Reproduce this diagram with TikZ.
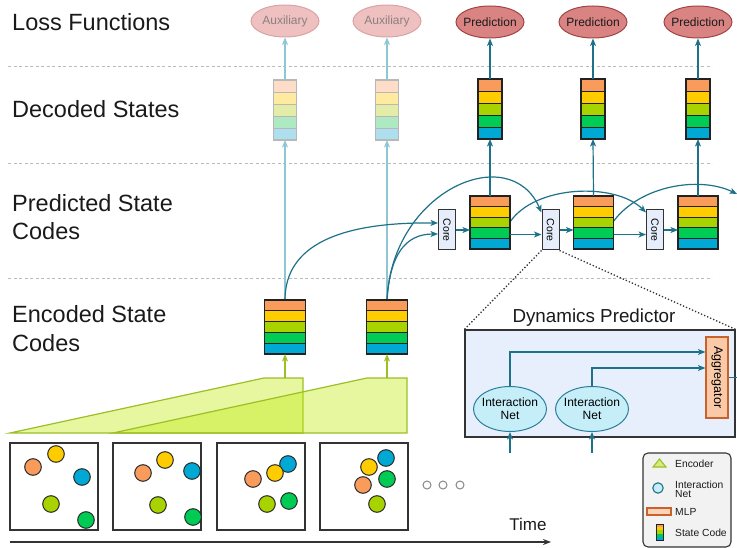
\documentclass[tikz,border=0pt]{standalone}
\usepackage{fontspec}
\setmainfont{Liberation Sans}
\usepackage{graphicx}
\usetikzlibrary{arrows.meta,calc,shapes.geometric}
\definecolor{sorange}{HTML}{F99B5B}
\definecolor{syellow}{HTML}{FFCC00}
\definecolor{slime}{HTML}{A8D200}
\definecolor{sgreen}{HTML}{00CC55}
\definecolor{sblue}{HTML}{00A8D4}
\definecolor{sborder}{HTML}{222222}
\definecolor{forange}{HTML}{FDDCC8}
\definecolor{fyellow}{HTML}{FFEB9F}
\definecolor{flime}{HTML}{E4EDA8}
\definecolor{fgreen}{HTML}{AFE9C2}
\definecolor{fblue}{HTML}{ADDFEF}
\definecolor{fborder}{HTML}{B8B8B8}
\definecolor{cteal}{HTML}{1D7189}
\definecolor{clteal}{HTML}{8EC6D3}
\definecolor{cencb}{HTML}{9CBF26}
\definecolor{cencf}{HTML}{C0EB11}
\definecolor{csep}{HTML}{BBBBBB}
\definecolor{ctext}{HTML}{1A1A1A}
\definecolor{caux}{HTML}{EFC0C0}
\definecolor{cauxb}{HTML}{D9A3A3}
\definecolor{cauxt}{HTML}{8C7F7F}
\definecolor{cpred}{HTML}{D98383}
\definecolor{cpredb}{HTML}{A04545}
\definecolor{cdark}{HTML}{333333}
\definecolor{ccore}{HTML}{E6EEFB}
\definecolor{cdp}{HTML}{E8EFFC}
\definecolor{cinet}{HTML}{C5EEF9}
\definecolor{cinetb}{HTML}{2B7E9A}
\definecolor{cagg}{HTML}{F9C9A8}
\definecolor{caggb}{HTML}{C8622A}
\definecolor{cframe}{HTML}{333333}
\definecolor{cballb}{HTML}{2A2A2A}
\definecolor{cdots}{HTML}{888888}
\definecolor{cleg}{HTML}{F2F2F2}
\definecolor{cmlp}{HTML}{FBD3B8}
\definecolor{ctri}{HTML}{D4EC7A}

\newcommand\codestack[6]{%
  \foreach \k/\c in {0/orange,1/yellow,2/lime,3/green,4/blue}{%
    \path[fill=#6\c, draw=#6border, line width=0.8pt] ({#2-#4/2},{#3-#5/2+\k*#5/5}) rectangle ({#2+#4/2},{#3-#5/2+(\k+1)*#5/5});
  }%
  \node[draw=#6border, line width=1.2pt, minimum width=#4pt, minimum height=#5pt, inner sep=0, outer sep=0] (#1) at (#2,#3) {};
}

\tikzset{
  tipa/.style={-{Stealth[length=7.5pt,width=6pt,inset=2pt]}},
  conn/.style={draw=cteal, line width=1.2pt, tipa},
  fconn/.style={draw=clteal, line width=1.2pt, tipa},
  encarr/.style={draw=cencb, line width=1.4pt, tipa},
  sepline/.style={draw=csep, line width=0.9pt, dash pattern=on 3pt off 2.5pt},
  lbl/.style={anchor=base west, inner sep=0, font=\fontsize{23.5}{28}\selectfont, text=ctext},
  lossell/.style={ellipse, minimum width=68pt, minimum height=32pt, inner sep=0, line width=1pt},
  auxell/.style={lossell, draw=cauxb, fill=caux},
  predell/.style={lossell, draw=cpredb, fill=cpred},
  elltext/.style={inner sep=0, font=\fontsize{12}{14}\selectfont},
  corebox/.style={draw=cdark, fill=ccore, line width=1pt, minimum width=17pt, minimum height=40pt, inner sep=0, font=\fontsize{10.5}{12}\selectfont},
  dpbox/.style={draw=cdark, fill=cdp, line width=1.2pt, minimum width=270pt, minimum height=107pt, inner sep=0},
  inet/.style={ellipse, draw=cinetb, fill=cinet, line width=1pt, minimum width=73pt, minimum height=45pt, inner sep=0},
  inettext/.style={inner sep=0, align=center, font=\fontsize{12}{13}\selectfont},
  aggbox/.style={draw=caggb, fill=cagg, line width=1.2pt, minimum width=22pt, minimum height=81pt, inner sep=0, font=\fontsize{12.5}{14}\selectfont},
  frame/.style={draw=cframe, line width=1.3pt},
  ball/.style={draw=cballb, line width=1pt},
  dotc/.style={draw=cdots, line width=1pt, fill=white},
  legbox/.style={draw=cdark, fill=cleg, line width=1.1pt, rounded corners=5pt, minimum width=88pt, minimum height=94pt, inner sep=0},
  legtext/.style={anchor=base west, inner sep=0, font=\fontsize{10.3}{9.5}\selectfont, align=left, text=ctext},
  encpoly/.style={fill=cencf, fill opacity=0.4, draw=cencb, line width=1.2pt},
}

\begin{document}
\begin{tikzpicture}[x=1pt,y=-1pt]
\useasboundingbox (0,0) rectangle (737,548);

% separators
\draw[sepline] (8,66) -- (712,66);
\draw[sepline] (8,163) -- (712,163);
\draw[sepline] (8,278) -- (712,278);

% row labels
\node[lbl] (lloss) at (12,31) {Loss Functions};
\node[lbl] (ldec) at (12,118) {Decoded States};
\node[lbl] (lpreda) at (12,212) {Predicted State};
\node[lbl] (lpredb) at (12,240) {Codes};
\node[lbl] (lenca) at (12,323) {Encoded State};
\node[lbl] (lencb) at (12,352) {Codes};

% loss ellipses
\node[auxell, label={[elltext, text=cauxt]center:Auxiliary}] (aux1) at (285,21) {};
\node[auxell, label={[elltext, text=cauxt]center:Auxiliary}] (aux2) at (387,21) {};
\node[predell, label={[elltext, text=ctext]center:Prediction}] (pe1) at (490,22) {};
\node[predell, label={[elltext, text=ctext]center:Prediction}] (pe2) at (593,22) {};
\node[predell, label={[elltext, text=ctext]center:Prediction}] (pe3) at (698,22) {};

% encoder trapezoids
\draw[encpoly] (10,433) -- (264,378) -- (303,378) -- (303,433) -- cycle;
\draw[encpoly] (113,433) -- (367,378) -- (407,378) -- (407,433) -- cycle;
\coordinate (enc1top) at (285,378);
\coordinate (enc2top) at (387,378);

% core boxes
\node[corebox] (c1) at (447,230) {\rotatebox{-90}{Core}};
\node[corebox] (c2) at (550.5,230) {\rotatebox{-90}{Core}};
\node[corebox] (c3) at (655,230) {\rotatebox{-90}{Core}};

\path (285,300) coordinate (e1top) (387,300) coordinate (e2top);

% connectors (beneath stacks)
\draw[fconn] (e1top) -- (285,140);
\draw[fconn] (e2top) -- (387,140);
\draw[conn] (e1top) .. controls (285,245) and (340,222) .. ($(c1.west)+(0,-7)$);
\draw[conn] (e2top) .. controls (390,255) and (405,234) .. ($(c1.west)+(0,4)$);
\draw[conn] (e2top) .. controls (392,190) and (510,140) .. ($(c2.north west)+(0,3)$);
\draw[conn] (510,222) .. controls (535,185) and (615,182) .. ($(c3.north west)+(0,3)$);
\coordinate (outright) at (737,194);
\draw[conn] (613,222) .. controls (640,185) and (700,176) .. (outright);

% stacks
\codestack{f1}{285}{110}{23}{60}{f}
\codestack{f2}{387}{110}{23}{60}{f}
\codestack{d1}{490}{109}{24}{60}{s}
\codestack{d2}{593}{109}{24}{60}{s}
\codestack{d3}{698}{109}{24}{60}{s}
\codestack{p1}{490}{222.5}{40}{53}{s}
\codestack{p2}{593.5}{222.5}{40}{53}{s}
\codestack{p3}{698}{222.5}{40}{53}{s}
\codestack{e1}{285}{327}{41}{54}{s}
\codestack{e2}{387}{327}{41}{54}{s}

% vertical connectors
\draw[fconn] (f1.north) -- (aux1.south);
\draw[fconn] (f2.north) -- (aux2.south);
\draw[conn] (p1.north) -- (d1.south);
\draw[conn] (p2.north) -- (d2.south);
\draw[conn] (p3.north) -- (d3.south);
\draw[conn] (d1.north) -- (pe1.south);
\draw[conn] (d2.north) -- (pe2.south);
\draw[conn] (d3.north) -- (pe3.south);

% core <-> predicted
\draw[conn] (c1.east) -- (p1.west |- c1.east);
\draw[conn] (c2.east) -- (p2.west |- c2.east);
\draw[conn] (c3.east) -- (p3.west |- c3.east);
\draw[conn] ($(p1.east)+(0,12)$) -- ($(c2.west)+(0,4.5)$);
\draw[conn] ($(p2.east)+(0,12)$) -- ($(c3.west)+(0,4.5)$);

% encoder arrows
\draw[encarr] (enc1top) -- (e1.south);
\draw[encarr] (enc2top) -- (e2.south);

% frames
\draw[frame] (10,443) rectangle (98,530);
\draw[frame] (113,443) rectangle (201,530);
\draw[frame] (217,443) rectangle (305,530);
\draw[frame] (320,443) rectangle (408,530);
\filldraw[ball, fill=sorange] (33,467) circle (8.3);
\filldraw[ball, fill=syellow] (56,454) circle (8.3);
\filldraw[ball, fill=sblue] (82,477) circle (8.3);
\filldraw[ball, fill=slime] (51,504) circle (8.3);
\filldraw[ball, fill=sgreen] (86,520) circle (8.3);
\filldraw[ball, fill=sorange] (143,473) circle (8.3);
\filldraw[ball, fill=syellow] (165,460) circle (8.3);
\filldraw[ball, fill=sblue] (192,471) circle (8.3);
\filldraw[ball, fill=slime] (158,505) circle (8.3);
\filldraw[ball, fill=sgreen] (193,517) circle (8.3);
\filldraw[ball, fill=sorange] (253,479) circle (8.3);
\filldraw[ball, fill=sblue] (288,464) circle (8.3);
\filldraw[ball, fill=syellow] (275,473) circle (8.3);
\filldraw[ball, fill=slime] (267,504) circle (8.3);
\filldraw[ball, fill=sgreen] (289,501) circle (8.3);
\filldraw[ball, fill=sblue] (386,458) circle (8.3);
\filldraw[ball, fill=syellow] (369,467) circle (8.3);
\filldraw[ball, fill=sorange] (363,485) circle (8.3);
\filldraw[ball, fill=sgreen] (387,479) circle (8.3);
\filldraw[ball, fill=slime] (377,504) circle (8.3);
\filldraw[dotc] (427,485) circle (4);
\filldraw[dotc] (443,485) circle (4);
\filldraw[dotc] (460,485) circle (4);

% time axis
\coordinate (t0) at (10,542);
\coordinate (t1) at (551,542);
\draw[draw=cdark, line width=1.5pt, -{Stealth[length=8pt,width=6pt]}] (t0) -- (t1);
\node[anchor=base, inner sep=0, font=\fontsize{17}{20}\selectfont, text=ctext] (time) at (528,530) {Time};

% dynamics predictor
\node[dpbox] (dp) at (600,383.5) {};
\node[anchor=base, inner sep=0, font=\fontsize{18.8}{22}\selectfont, text=ctext] (dptitle) at (594,322.5) {Dynamics Predictor};
\draw[draw=cdark, line width=1.3pt, dotted] (c2.south west) -- (dp.north west);
\draw[draw=cdark, line width=1.3pt, dotted] (c2.south east) -- (dp.north east);
\node[inet, label={[inettext]center:{Interaction\\Net}}] (in1) at (510,409) {};
\node[inet, label={[inettext]center:{Interaction\\Net}}] (in2) at (592,409) {};
\node[aggbox] (agg) at (717,377.5) {\rotatebox{-90}{Aggregator}};
\draw[conn] (in1.north) |- ($(agg.west)+(0,-25.5)$);
\draw[conn] (in2.north) |- ($(agg.west)+(0,-9.5)$);
\coordinate (in1src) at (510,453);
\coordinate (in2src) at (592,453);
\draw[conn] (in1src) -- (in1.south);
\draw[conn] (in2src) -- (in2.south);
\coordinate (aggout) at (737,377.5);
\draw[draw=cteal, line width=1.2pt] (agg.east) -- (aggout);

% legend
\node[legbox] (leg) at (687,500) {};
\draw[fill=ctri, draw=cencb, line width=1.1pt] (653,467) -- (666,467) -- (659.5,459) -- cycle;
\node[legtext] (legenc) at (675,467) {Encoder};
\filldraw[fill=cinet, draw=cteal, line width=1.1pt] (658,488) circle (5.2);
\node[legtext, anchor=west] (legin) at (675,489.5) {Interaction\\Net};
\filldraw[fill=cmlp, draw=caggb, line width=1.3pt] (647,508) rectangle (671,515);
\node[legtext] (legmlp) at (675,515) {MLP};
\foreach \k/\c in {0/orange,1/yellow,2/lime,3/green,4/blue}{%
  \fill[s\c] (656,{524+\k*3.2}) rectangle (663,{524+(\k+1)*3.2});
}
\draw[draw=sborder, line width=0.9pt] (656,524) rectangle (663,540);
\node[legtext] (legsc) at (675,536) {State Code};
\end{tikzpicture}
\end{document}
